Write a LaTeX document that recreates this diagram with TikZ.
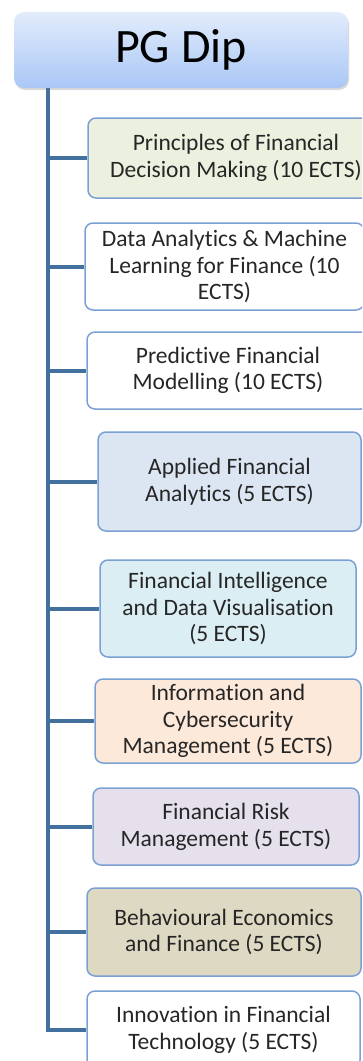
\documentclass[tikz,border=0pt]{standalone}
\usepackage{fontspec}
\setmainfont{Carlito}[Ligatures=NoCommon]
\usepackage{xcolor}
\usetikzlibrary{shadows}
\definecolor{trunkblue}{HTML}{41719C}
\definecolor{edgeblue}{HTML}{7BA0D4}
\definecolor{txtgray}{HTML}{262626}
\definecolor{greenfill}{HTML}{EBF1DE}
\definecolor{bluefill}{HTML}{DCE6F2}
\definecolor{cyanfill}{HTML}{DBEEF4}
\definecolor{peachfill}{HTML}{FDE9D9}
\definecolor{lilacfill}{HTML}{E6E0EC}
\definecolor{tanfill}{HTML}{DDD9C3}
\definecolor{titletop}{HTML}{E2ECFC}
\definecolor{titlebot}{HTML}{A9C7F5}
\tikzset{
  course/.style={draw=edgeblue, line width=1.5pt, rounded corners=8pt, align=center,
    text=txtgray, inner sep=0pt, font=\fontsize{23.5}{26.7}\selectfont},
  trunk/.style={draw=trunkblue, line width=4pt},
}
\begin{document}
\begin{tikzpicture}[x=1pt, y=-1pt]
  \useasboundingbox (0,0) rectangle (362,1061);
  \clip (0,0) rectangle (362,1061);
  \node[rounded corners=10pt, top color=titletop, bottom color=titlebot,
    drop shadow={shadow xshift=1pt, shadow yshift=-2pt, opacity=0.3}, minimum width=334pt, minimum height=76pt,
    inner sep=0pt, text=black, font=\fontsize{48}{54}\selectfont] (title) at (181,50) {PG Dip};
  \coordinate (tbot) at (48,1029);
  \node[course, fill=greenfill, minimum width=296pt, minimum height=80pt] (pfdm) at (236,158)
    {Principles of Financial\\Decision Making (10 ECTS)};
  \node[course, fill=white, minimum width=279pt, minimum height=87pt] (daml) at (224.5,266.5)
    {Data Analytics \& Machine\\Learning for Finance (10\\ECTS)};
  \node[course, fill=white, minimum width=282pt, minimum height=77pt] (pfm) at (228,370.5)
    {Predictive Financial\\Modelling (10 ECTS)};
  \node[course, fill=bluefill, minimum width=263pt, minimum height=99pt] (afa) at (229.5,481.5)
    {Applied Financial\\Analytics (5 ECTS)};
  \node[course, fill=cyanfill, minimum width=256pt, minimum height=97pt] (fidv) at (228,608.5)
    {Financial Intelligence\\and Data Visualisation\\(5 ECTS)};
  \node[course, fill=peachfill, minimum width=266pt, minimum height=84pt] (icm) at (228,721)
    {Information and\\Cybersecurity\\Management (5 ECTS)};
  \node[course, fill=lilacfill, minimum width=266pt, minimum height=77pt] (frm) at (226,826.5)
    {Financial Risk\\Management (5 ECTS)};
  \node[course, fill=tanfill, minimum width=274pt, minimum height=88pt] (bef) at (224,932)
    {Behavioural Economics\\and Finance (5 ECTS)};
  \node[course, fill=white, minimum width=273pt, minimum height=77pt] (ift) at (223.5,1029.5)
    {Innovation in Financial\\Technology (5 ECTS)};
  \draw[trunk] (title.south -| tbot) -- ([yshift=-2pt]tbot);
  \foreach \c in {pfdm, daml, pfm, afa, fidv, icm, frm, bef, ift}
    \draw[trunk] ([xshift=-2pt]\c.west -| tbot) -- (\c.west);
\end{tikzpicture}
\end{document}
